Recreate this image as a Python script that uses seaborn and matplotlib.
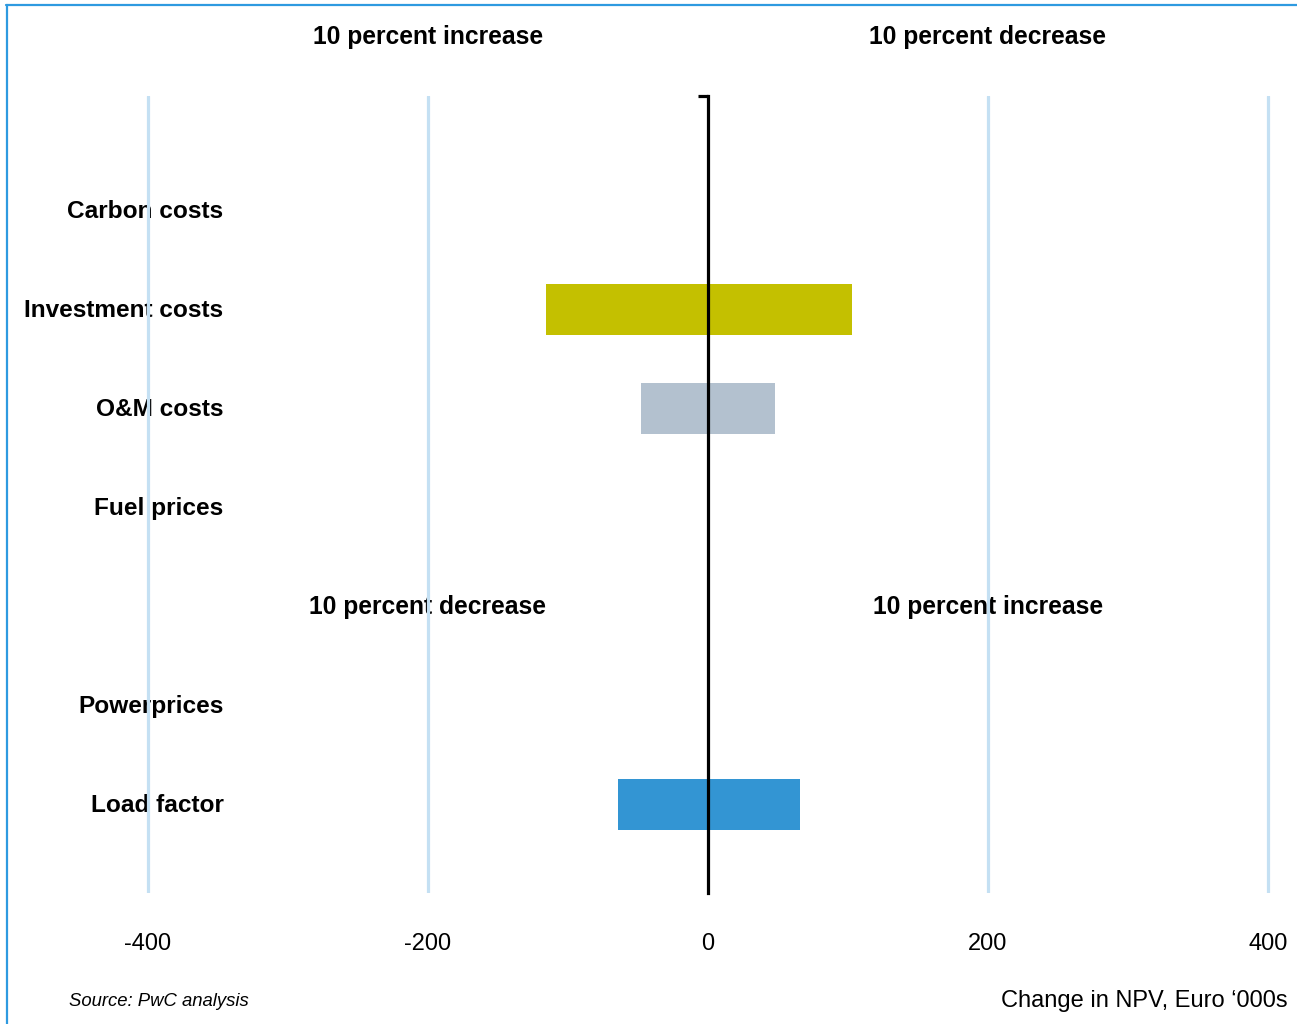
import matplotlib
matplotlib.use("Agg")
import matplotlib.pyplot as plt
from matplotlib.lines import Line2D
import seaborn as sns
import pandas as pd

factors = ["Carbon costs", "Investment costs", "O&M costs", "Fuel prices", " ", "Powerprices", "Load factor"]
low_values = [0, -116, -48, 0, 0, 0, -64]
high_values = [0, 103, 48, 0, 0, 0, 66]
bar_colors = ["#c4c000", "#c4c000", "#b3c1cf", "#b3c1cf", "#ffffff", "#3395d3", "#3395d3"]
x_ticks = [-400, -200, 0, 200, 400]
top_labels = ["10 percent increase", "10 percent decrease"]
mid_labels = ["10 percent decrease", "10 percent increase"]


def tornado_chart(df: pd.DataFrame) -> None:
    sns.set_style("white")
    plt.rcParams["font.family"] = ["Liberation Sans", "DejaVu Sans"]
    plt.rcParams["text.color"] = "black"
    plt.rcParams["xtick.color"] = "black"

    fig = plt.figure(figsize=(12.97, 10.24), dpi=100)
    ax = fig.add_axes([120 / 1297, 1 - 893 / 1024, 1176 / 1297, 797 / 1024])

    palette = dict(zip(df["factor"], bar_colors))
    for col in ["low", "high"]:
        sns.barplot(
            df, x=col, y="factor", hue="factor", palette=palette,
            order=factors, orient="h", width=0.515, legend=False,
            saturation=1, linewidth=0, ax=ax,
        )

    ax.set_xlim(-420, 420)
    ax.set_ylim(6.89, -1.156)

    # light blue gridlines, drawn above the labels like the original
    for t in [-400, -200, 200, 400]:
        ax.axvline(t, color="#c4e0f3", lw=2.3, zorder=5)

    for s in ["top", "right", "bottom"]:
        ax.spines[s].set_visible(False)
    ax.spines["left"].set_position(("data", 0))
    ax.spines["left"].set_color("black")
    ax.spines["left"].set_linewidth(2.3)
    ax.spines["left"].set_zorder(6)
    ax.set_yticks([-1.156])
    ax.set_yticklabels([])
    ax.tick_params(axis="y", direction="out", length=7, width=2.3, color="black", left=True)

    ax.set_xticks(x_ticks)
    ax.set_xticklabels([str(t) for t in x_ticks], fontsize=17, color="black")
    ax.tick_params(axis="x", length=0, pad=29)
    ax.set_xlabel("")
    ax.set_ylabel("")

    for i, name in enumerate(factors):
        if name.strip():
            ax.text(-346, i + 0.01, name, ha="right", va="center", fontsize=17.6,
                    fontweight="bold", zorder=1)

    for x, label in zip([-200, 200], top_labels):
        ax.text(x, -1.75, label, ha="center", va="center", fontsize=17.7,
                fontweight="bold", clip_on=False)
    for x, label in zip([-200, 200], mid_labels):
        ax.text(x, 4.0, label, ha="center", va="center", fontsize=17.7,
                fontweight="bold", zorder=1)

    fig.text(69 / 1297, 1 - 1002 / 1024, "Source: PwC analysis", fontsize=13.3,
             style="italic", ha="left", va="center")
    fig.text(1288 / 1297, 1 - 1001 / 1024, "Change in NPV, Euro \u2018000s",
             fontsize=17, ha="right", va="center")

    # frame lines at top and left
    fig.add_artist(Line2D([6 / 1297, 1], [1 - 4.5 / 1024] * 2, color="#2e9ae0", lw=1.6))
    fig.add_artist(Line2D([6.5 / 1297] * 2, [0, 1 - 4.5 / 1024], color="#2e9ae0", lw=1.6))

    fig.savefig("out.png", dpi=100)


def main():
    df = pd.DataFrame({"factor": factors, "low": low_values, "high": high_values})
    tornado_chart(df)


if __name__ == "__main__":
    main()
